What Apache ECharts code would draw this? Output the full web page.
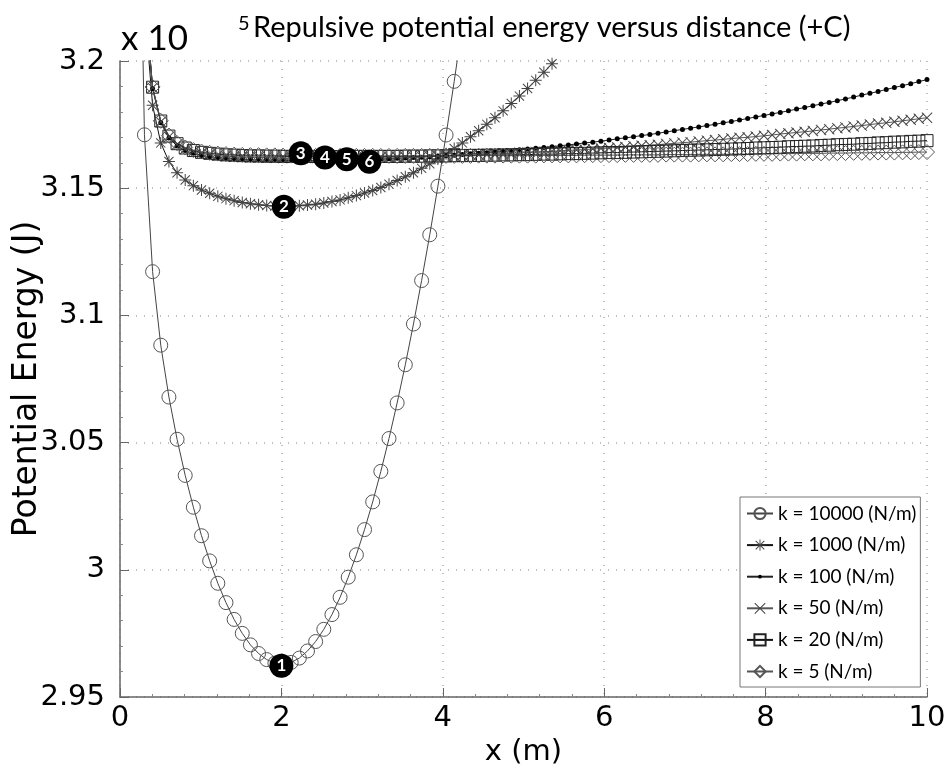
<!DOCTYPE html>
<html>
<head>
<meta charset="utf-8">
<script src="https://cdn.jsdelivr.net/npm/echarts@6/dist/echarts.min.js"></script>
<style>
  html, body { margin: 0; padding: 0; background: #fff; }
  #main { width: 946px; height: 772px; }
</style>
</head>
<body>
<div id="main"></div>
<script>
// sample positions along x (m)
const xs = [0, 0.1010, 0.2020, 0.3030, 0.4040, 0.5051, 0.6061, 0.7071, 0.8081, 0.9091,
  1.0101, 1.1111, 1.2121, 1.3131, 1.4141, 1.5152, 1.6162, 1.7172, 1.8182, 1.9192,
  2.0202, 2.1212, 2.2222, 2.3232, 2.4242, 2.5253, 2.6263, 2.7273, 2.8283, 2.9293,
  3.0303, 3.1313, 3.2323, 3.3333, 3.4343, 3.5354, 3.6364, 3.7374, 3.8384, 3.9394,
  4.0404, 4.1414, 4.2424, 4.3434, 4.4444, 4.5455, 4.6465, 4.7475, 4.8485, 4.9495,
  5.0505, 5.1515, 5.2525, 5.3535, 5.4545, 5.5556, 5.6566, 5.7576, 5.8586, 5.9596,
  6.0606, 6.1616, 6.2626, 6.3636, 6.4646, 6.5657, 6.6667, 6.7677, 6.8687, 6.9697,
  7.0707, 7.1717, 7.2727, 7.3737, 7.4747, 7.5758, 7.6768, 7.7778, 7.8788, 7.9798,
  8.0808, 8.1818, 8.2828, 8.3838, 8.4848, 8.5859, 8.6869, 8.7879, 8.8889, 8.9899,
  9.0909, 9.1919, 9.2929, 9.3939, 9.4949, 9.5960, 9.6970, 9.7980, 9.8990, 10];

// energies in units of 1e5 J, each list starts at xs[start]
const k10000Start = 2;
const k10000 = [3.3414, 3.1710, 3.1172, 3.0883, 3.0679, 3.0513, 3.0371, 3.0246, 3.0134, 3.0035,
  2.9947, 2.9871, 2.9805, 2.9750, 2.9705, 2.9671, 2.9647, 2.9633, 2.9629, 2.9636,
  2.9653, 2.9681, 2.9718, 2.9766, 2.9824, 2.9892, 2.9971, 3.0059, 3.0158, 3.0267,
  3.0387, 3.0516, 3.0656, 3.0806, 3.0966, 3.1137, 3.1317, 3.1508, 3.1709, 3.1920, 3.2141];

const k1000Start = 3;
const k1000 = [3.2214, 3.1826, 3.1678, 3.1605, 3.1561, 3.1532, 3.1510, 3.1493, 3.1480, 3.1468,
  3.1459, 3.1451, 3.1444, 3.1439, 3.1435, 3.1432, 3.1430, 3.1429, 3.1430, 3.1431,
  3.1434, 3.1437, 3.1442, 3.1448, 3.1454, 3.1462, 3.1471, 3.1481, 3.1491, 3.1503,
  3.1516, 3.1530, 3.1545, 3.1561, 3.1578, 3.1596, 3.1615, 3.1635, 3.1656, 3.1678,
  3.1702, 3.1726, 3.1751, 3.1777, 3.1804, 3.1833, 3.1862, 3.1892, 3.1924, 3.1956,
  3.1989, 3.2024];

const k100Start = 3;
const k100 = [3.2264, 3.1891, 3.1757, 3.1697, 3.1666, 3.1648, 3.1637, 3.1629, 3.1624, 3.1620,
  3.1617, 3.1615, 3.1613, 3.1612, 3.1611, 3.1610, 3.1610, 3.1609, 3.1609, 3.1609,
  3.1609, 3.1609, 3.1609, 3.1610, 3.1610, 3.1611, 3.1612, 3.1613, 3.1614, 3.1615,
  3.1616, 3.1618, 3.1619, 3.1621, 3.1622, 3.1624, 3.1626, 3.1628, 3.1630, 3.1632,
  3.1635, 3.1637, 3.1639, 3.1642, 3.1645, 3.1648, 3.1651, 3.1654, 3.1657, 3.1660,
  3.1663, 3.1667, 3.1670, 3.1674, 3.1678, 3.1681, 3.1685, 3.1689, 3.1694, 3.1698,
  3.1702, 3.1707, 3.1711, 3.1716, 3.1721, 3.1726, 3.1731, 3.1736, 3.1741, 3.1746,
  3.1751, 3.1757, 3.1762, 3.1768, 3.1774, 3.1780, 3.1786, 3.1792, 3.1798, 3.1804,
  3.1811, 3.1817, 3.1824, 3.1831, 3.1837, 3.1844, 3.1851, 3.1858, 3.1866, 3.1873,
  3.1880, 3.1888, 3.1896, 3.1903, 3.1911, 3.1919, 3.1927];

const k50Start = 3;
const k50 = [3.2267, 3.1895, 3.1761, 3.1702, 3.1672, 3.1654, 3.1644, 3.1637, 3.1632, 3.1629,
  3.1626, 3.1624, 3.1623, 3.1622, 3.1621, 3.1620, 3.1620, 3.1619, 3.1619, 3.1619,
  3.1619, 3.1619, 3.1619, 3.1619, 3.1619, 3.1620, 3.1620, 3.1620, 3.1621, 3.1621,
  3.1622, 3.1622, 3.1623, 3.1624, 3.1625, 3.1625, 3.1626, 3.1627, 3.1628, 3.1630,
  3.1631, 3.1632, 3.1633, 3.1635, 3.1636, 3.1637, 3.1639, 3.1640, 3.1642, 3.1643,
  3.1645, 3.1647, 3.1649, 3.1650, 3.1652, 3.1654, 3.1656, 3.1658, 3.1660, 3.1662,
  3.1665, 3.1667, 3.1669, 3.1671, 3.1674, 3.1676, 3.1679, 3.1681, 3.1684, 3.1687,
  3.1689, 3.1692, 3.1695, 3.1698, 3.1700, 3.1703, 3.1706, 3.1709, 3.1713, 3.1716,
  3.1719, 3.1722, 3.1725, 3.1729, 3.1732, 3.1736, 3.1739, 3.1743, 3.1746, 3.1750,
  3.1754, 3.1757, 3.1761, 3.1765, 3.1769, 3.1773, 3.1777];

const k20Start = 3;
const k20 = [3.2269, 3.1897, 3.1764, 3.1705, 3.1675, 3.1658, 3.1648, 3.1641, 3.1637, 3.1634,
  3.1631, 3.1630, 3.1628, 3.1627, 3.1627, 3.1626, 3.1626, 3.1625, 3.1625, 3.1625,
  3.1625, 3.1625, 3.1624, 3.1624, 3.1624, 3.1625, 3.1625, 3.1625, 3.1625, 3.1625,
  3.1625, 3.1625, 3.1626, 3.1626, 3.1626, 3.1627, 3.1627, 3.1627, 3.1628, 3.1628,
  3.1629, 3.1629, 3.1630, 3.1630, 3.1631, 3.1631, 3.1632, 3.1632, 3.1633, 3.1634,
  3.1634, 3.1635, 3.1636, 3.1636, 3.1637, 3.1638, 3.1639, 3.1640, 3.1640, 3.1641,
  3.1642, 3.1643, 3.1644, 3.1645, 3.1646, 3.1647, 3.1648, 3.1649, 3.1650, 3.1651,
  3.1652, 3.1653, 3.1654, 3.1655, 3.1656, 3.1658, 3.1659, 3.1660, 3.1661, 3.1663,
  3.1664, 3.1665, 3.1666, 3.1668, 3.1669, 3.1671, 3.1672, 3.1673, 3.1675, 3.1676,
  3.1678, 3.1679, 3.1681, 3.1682, 3.1684, 3.1685, 3.1687];

const k5Start = 3;
const k5 = [3.2270, 3.1898, 3.1765, 3.1707, 3.1677, 3.1660, 3.1650, 3.1644, 3.1639, 3.1636,
  3.1634, 3.1632, 3.1631, 3.1630, 3.1630, 3.1629, 3.1629, 3.1628, 3.1628, 3.1628,
  3.1627, 3.1627, 3.1627, 3.1627, 3.1627, 3.1627, 3.1627, 3.1627, 3.1627, 3.1627,
  3.1627, 3.1627, 3.1627, 3.1627, 3.1627, 3.1627, 3.1627, 3.1627, 3.1627, 3.1627,
  3.1627, 3.1628, 3.1628, 3.1628, 3.1628, 3.1628, 3.1628, 3.1628, 3.1628, 3.1629,
  3.1629, 3.1629, 3.1629, 3.1629, 3.1630, 3.1630, 3.1630, 3.1630, 3.1630, 3.1631,
  3.1631, 3.1631, 3.1631, 3.1631, 3.1632, 3.1632, 3.1632, 3.1632, 3.1633, 3.1633,
  3.1633, 3.1633, 3.1634, 3.1634, 3.1634, 3.1635, 3.1635, 3.1635, 3.1636, 3.1636,
  3.1636, 3.1637, 3.1637, 3.1637, 3.1638, 3.1638, 3.1638, 3.1639, 3.1639, 3.1639,
  3.1640, 3.1640, 3.1640, 3.1641, 3.1641, 3.1642, 3.1642];

// numbered minimum markers
const annotX = [2.0, 2.03, 2.24, 2.54, 2.81, 3.09];
const annotY = [2.9623, 3.1427, 3.1637, 3.1621, 3.1614, 3.1604];
const annotText = ['1', '2', '3', '4', '5', '6'];

const seriesNames = ['k = 10000 (N/m)', 'k = 1000 (N/m)', 'k = 100 (N/m)',
  'k = 50 (N/m)', 'k = 20 (N/m)', 'k = 5 (N/m)'];

const FONT = 'Lato';
const TICKFONT = 'DejaVu Sans';

function pairs(start, vals) {
  return vals.map(function (v, i) { return [xs[start + i], v]; });
}

// marker shapes (asterisk, cross, small dot padded so the legend keeps it small)
const STAR = 'path://M0 11L24 11L24 13L0 13Z M11 0L13 0L13 24L11 24Z M3.5 2.1L21.9 20.5L20.5 21.9L2.1 3.5Z M20.5 2.1L21.9 3.5L3.5 21.9L2.1 20.5Z';
const CROSS = 'path://M2.1 0.7L23.3 21.9L21.9 23.3L0.7 2.1Z M21.9 0.7L23.3 2.1L2.1 23.3L0.7 21.9Z';
const DOT = 'path://M0 0L0.05 0L0 0.05Z M24 24L23.95 24L24 23.95Z M8 12A4 4 0 1 0 16 12A4 4 0 1 0 8 12Z';

var chart = echarts.init(document.getElementById('main'));

function lineSeries(name, data, opts) {
  return {
    name: name,
    type: 'line',
    data: data,
    clip: true,
    showAllSymbol: true,
    symbol: opts.symbol,
    symbolSize: opts.size,
    lineStyle: { color: opts.line, width: 1 },
    itemStyle: { color: opts.fill, borderColor: opts.border, borderWidth: opts.bw },
    emphasis: { disabled: true },
    animation: false
  };
}

var option = {
  backgroundColor: '#fff',
  animation: false,
  graphic: [
    { type: 'text', x: 253, y: 28, style: { text: 'Repulsive potential energy versus distance (+C)', font: '29px ' + FONT, fill: '#000', verticalAlign: 'middle' } },
    { type: 'text', x: 121, y: 39, style: { text: 'x 10', font: '35px ' + FONT, fill: '#000', verticalAlign: 'middle' } },
    { type: 'text', x: 238, y: 24, style: { text: '5', font: '20px ' + FONT, fill: '#000', verticalAlign: 'middle' } }
  ],
  legend: {
    data: seriesNames,
    orient: 'vertical',
    left: 740,
    top: 497,
    backgroundColor: '#fff',
    borderColor: '#777',
    borderWidth: 1,
    padding: [7, 4, 6, 6],
    itemWidth: 26,
    itemHeight: 14,
    itemGap: 12.6,
    textStyle: { fontFamily: FONT, fontSize: 19, color: '#000' }
  },
  grid: { left: 120, right: 19, top: 61, bottom: 75, containLabel: false, outerBoundsMode: 'none' },
  xAxis: {
    type: 'value',
    min: 0, max: 10, interval: 2,
    name: 'x (m)',
    nameLocation: 'middle',
    nameGap: 34,
    nameTextStyle: { fontFamily: TICKFONT, fontSize: 29, color: '#000' },
    axisLine: { lineStyle: { color: '#666', width: 1.5 } },
    axisTick: { inside: true, length: 9, lineStyle: { color: '#666' } },
    minorTick: { show: true, splitNumber: 5, length: 3, lineStyle: { color: '#888' } },
    axisLabel: { fontFamily: TICKFONT, fontSize: 29, color: '#000', margin: 7 },
    splitLine: { show: true, lineStyle: { color: '#aaa', type: [1, 7], width: 1.5 } }
  },
  yAxis: {
    type: 'value',
    min: 2.95, max: 3.2, interval: 0.05,
    name: 'Potential Energy (J)',
    nameLocation: 'middle',
    nameGap: 76,
    nameMoveOverlap: false,
    nameTextStyle: { fontFamily: TICKFONT, fontSize: 33, color: '#000' },
    axisLine: { show: true, lineStyle: { color: '#666', width: 1.5 } },
    axisTick: { show: true, inside: true, length: 9, lineStyle: { color: '#666' } },
    minorTick: { show: true, splitNumber: 5, length: 3, lineStyle: { color: '#888' } },
    axisLabel: { fontFamily: TICKFONT, fontSize: 29, color: '#000', margin: 15 },
    splitLine: { show: true, lineStyle: { color: '#aaa', type: [1, 7], width: 1.5 } }
  },
  series: [
    lineSeries(seriesNames[0], pairs(k10000Start, k10000),
      { symbol: 'circle', size: 14, line: '#444', fill: 'rgba(255,255,255,0)', border: '#555', bw: 1 }),
    lineSeries(seriesNames[1], pairs(k1000Start, k1000),
      { symbol: STAR, size: 12, line: '#111', fill: '#444', border: '#444', bw: 0 }),
    lineSeries(seriesNames[2], pairs(k100Start, k100),
      { symbol: DOT, size: 15, line: '#222', fill: '#000', border: '#000', bw: 0 }),
    lineSeries(seriesNames[3], pairs(k50Start, k50),
      { symbol: CROSS, size: 11, line: '#555', fill: '#444', border: '#444', bw: 0 }),
    lineSeries(seriesNames[4], pairs(k20Start, k20),
      { symbol: 'rect', size: 12, line: '#111', fill: 'rgba(255,255,255,0)', border: '#222', bw: 1 }),
    lineSeries(seriesNames[5], pairs(k5Start, k5),
      { symbol: 'diamond', size: 15, line: '#555', fill: 'rgba(255,255,255,0)', border: '#555', bw: 1 }),
    {
      name: 'labels',
      type: 'scatter',
      data: annotX.map(function (x, i) { return { value: [x, annotY[i]], name: annotText[i] }; }),
      symbol: 'circle',
      symbolSize: 24,
      itemStyle: { color: '#000', opacity: 1 },
      label: {
        show: true,
        position: 'inside',
        formatter: function (p) { return p.name; },
        color: '#fff',
        fontFamily: FONT,
        fontWeight: 'bold',
        fontSize: 17
      },
      z: 10,
      emphasis: { disabled: true },
      animation: false
    }
  ]
};

chart.setOption(option);
</script>
</body>
</html>
